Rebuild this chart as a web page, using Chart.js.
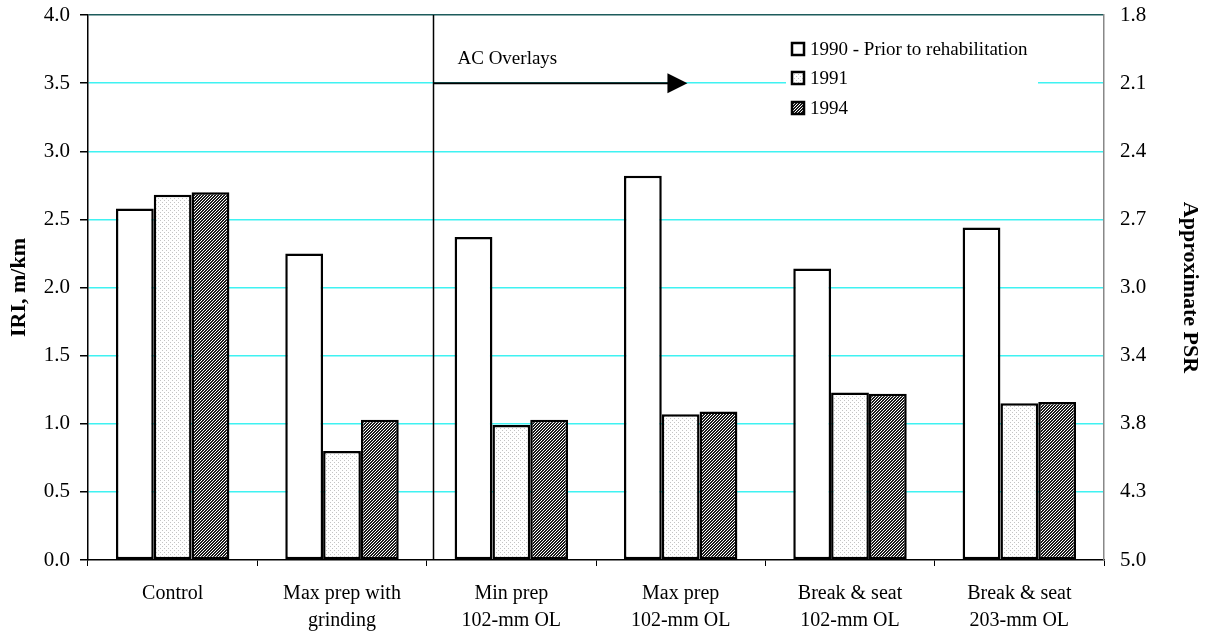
<!DOCTYPE html>
<html>
<head>
<meta charset="utf-8">
<title>IRI before and after rehabilitation</title>
<script src="https://cdn.jsdelivr.net/npm/chart.js@4.4.1/dist/chart.umd.min.js"></script>
<style>
  html, body { margin: 0; padding: 0; background: #fff; }
  #wrap { width: 1212px; height: 632px; }
</style>
</head>
<body>
<div id="wrap"><canvas id="chart"></canvas></div>
<script>
// data
const sections = [
    'Control',
    ['Max prep with', 'grinding'],
    ['Min prep', '102-mm OL'],
    ['Max prep', '102-mm OL'],
    ['Break & seat', '102-mm OL'],
    ['Break & seat', '203-mm OL']
];
const seriesNames = ['1990 - Prior to rehabilitation', '1991', '1994'];
const iri1990 = [2.58, 2.25, 2.37, 2.82, 2.14, 2.44];
const iri1991 = [2.68, 0.80, 0.99, 1.07, 1.23, 1.15];
const iri1994 = [2.70, 1.03, 1.03, 1.09, 1.22, 1.16];
const psrTicks = ['5.0', '4.3', '3.8', '3.4', '3.0', '2.7', '2.4', '2.1', '1.8'];
const overlayLabel = 'AC Overlays';

const FONT = 'Liberation Serif, Times New Roman, serif';
const canvas = document.getElementById('chart');
const mainCtx = canvas.getContext('2d');

// fill patterns like the old spreadsheet ones
function makePattern(kind) {
    const n = kind === 'hatch' ? 3 : 4;
    const c = document.createElement('canvas');
    c.width = n;
    c.height = n;
    const g = c.getContext('2d');
    g.fillStyle = '#fff';
    g.fillRect(0, 0, n, n);
    if (kind === 'dots') {
        g.fillStyle = '#c4c4c4';
        g.fillRect(0, 0, 1, 1);
        g.fillRect(2, 2, 1, 1);
    } else if (kind === 'hatch') {
        g.fillStyle = '#1a1a1a';
        for (let px = 0; px < n; px++) {
            for (let py = 0; py < n; py++) {
                if ((px + py) % 3 !== 0) g.fillRect(px, py, 1, 1);
            }
        }
    }
    return mainCtx.createPattern(c, 'repeat');
}
const fills = ['#fff', makePattern('dots'), makePattern('hatch')];

const overlay = {
    id: 'overlay',
    afterDatasetsDraw(chart) {
        const { ctx, chartArea: a, scales } = chart;
        const x = scales.x, y = scales.y;
        ctx.save();

        // divider between the control sections and the overlays
        const lx = Math.round(x.getPixelForValue(1.54)) + 0.5;
        ctx.strokeStyle = '#000';
        ctx.lineWidth = 1.5;
        ctx.beginPath();
        ctx.moveTo(lx, a.top);
        ctx.lineTo(lx, a.bottom);
        ctx.stroke();

        // arrow
        const ay = y.getPixelForValue(3.5);
        const tip = x.getPixelForValue(3.04);
        ctx.lineWidth = 2;
        ctx.beginPath();
        ctx.moveTo(lx, ay);
        ctx.lineTo(tip - 18, ay);
        ctx.stroke();
        ctx.fillStyle = '#000';
        ctx.beginPath();
        ctx.moveTo(tip, ay);
        ctx.lineTo(tip - 20, ay - 10);
        ctx.lineTo(tip - 20, ay + 10);
        ctx.closePath();
        ctx.fill();

        ctx.font = '19px ' + FONT;
        ctx.textAlign = 'left';
        ctx.textBaseline = 'middle';
        ctx.fillText(overlayLabel, lx + 24, ay - 24);

        // legend box
        const bx = 786, by = 34;
        ctx.fillStyle = '#fff';
        ctx.fillRect(bx, by, 252, 90);
        const rows = [49, 78, 108];
        seriesNames.forEach((name, i) => {
            ctx.fillStyle = fills[i];
            ctx.fillRect(bx + 6, rows[i] - 6, 12, 12);
            ctx.strokeStyle = '#000';
            ctx.lineWidth = 2.5;
            ctx.strokeRect(bx + 6, rows[i] - 6, 12, 12);
            ctx.fillStyle = '#000';
            ctx.font = '19px ' + FONT;
            ctx.fillText(name, bx + 24, rows[i] + 1);
        });
        ctx.restore();
    }
};

function bars(label, data, i) {
    return {
        label: label,
        data: data,
        backgroundColor: fills[i],
        borderColor: '#000',
        borderWidth: 2.5,
        borderSkipped: false,
        categoryPercentage: 0.67,
        barPercentage: 1.0
    };
}

// keep the tick labels from pushing the plot frame down
function fixWidth(w) {
    return scale => {
        scale.width = w;
        scale.paddingTop = 0;
        scale.paddingBottom = 0;
    };
}

new Chart(mainCtx, {
    type: 'bar',
    data: {
        labels: sections,
        datasets: [
            bars(seriesNames[0], iri1990, 0),
            bars(seriesNames[1], iri1991, 1),
            bars(seriesNames[2], iri1994, 2)
        ]
    },
    options: {
        responsive: true,
        maintainAspectRatio: false,
        animation: false,
        layout: { padding: { top: 15, left: 0, right: 0, bottom: 0 } },
        plugins: {
            legend: { display: false },
            tooltip: { enabled: false }
        },
        scales: {
            x: {
                offset: true,
                grid: {
                    offset: true,
                    drawOnChartArea: false,
                    tickColor: '#000',
                    tickLength: 6
                },
                border: { color: '#000', width: 1.5 },
                ticks: {
                    color: '#000',
                    padding: 14,
                    maxRotation: 0,
                    autoSkip: false,
                    font: { family: FONT, size: 20, lineHeight: 1.35 }
                },
                afterFit(scale) {
                    scale.height = 72;
                    scale.paddingLeft = 0;
                    scale.paddingRight = 0;
                }
            },
            y: {
                position: 'left',
                min: 0,
                max: 4,
                ticks: {
                    stepSize: 0.5,
                    color: '#000',
                    padding: 10,
                    font: { family: FONT, size: 21 },
                    callback: v => v.toFixed(1)
                },
                grid: {
                    color: ctx => ctx.tick && ctx.tick.value === 4 ? '#1d5c5c' : (ctx.tick && ctx.tick.value === 0 ? 'rgba(0,0,0,0)' : '#3ff2f2'),
                    lineWidth: 1.5,
                    tickColor: '#000',
                    tickLength: 8
                },
                border: { color: '#000', width: 1.5 },
                title: {
                    display: true,
                    text: 'IRI, m/km',
                    color: '#000',
                    padding: { top: 6, bottom: 0 },
                    font: { family: FONT, size: 22, weight: 'bold', lineHeight: 1.2 }
                },
                afterFit: fixWidth(88)
            },
            psr: {
                position: 'right',
                min: 0,
                max: 4,
                ticks: {
                    stepSize: 0.5,
                    color: '#000',
                    padding: 16,
                    font: { family: FONT, size: 21 },
                    callback: (v, i) => psrTicks[i]
                },
                grid: { drawOnChartArea: false, drawTicks: false },
                border: { color: '#888', width: 1.5 },
                title: {
                    display: true,
                    text: 'Approximate PSR',
                    color: '#000',
                    padding: { top: 9, bottom: 0 },
                    font: { family: FONT, size: 22, weight: 'bold', lineHeight: 1.2 }
                },
                afterFit: fixWidth(108)
            }
        }
    },
    plugins: [overlay]
});
</script>
</body>
</html>
